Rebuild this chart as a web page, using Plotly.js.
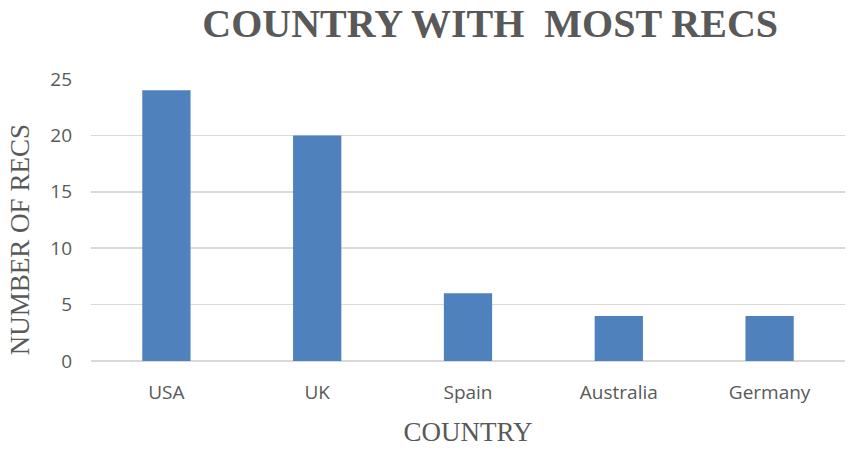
<!DOCTYPE html>
<html>
<head>
<meta charset="utf-8">
<script src="https://cdn.plot.ly/plotly-3.0.1.min.js"></script>
<style>
  html, body { margin: 0; padding: 0; background: #fff; }
  #chart { width: 854px; height: 450px; }
</style>
</head>
<body>
<div id="chart"></div>
<script>
// Country counts
const countries = ['USA', 'UK', 'Spain', 'Australia', 'Germany'];
const recs = [24, 20, 6, 4, 4];
const yTicks = [0, 5, 10, 15, 20, 25];

const grey = '#595959';
const serif = "'Liberation Serif', 'DejaVu Serif', serif";
const sans = "'Open Sans', 'Liberation Sans', sans-serif";

const traces = [{
    type: 'bar',
    x: countries,
    y: recs,
    marker: { color: '#4F81BD' },
    hoverinfo: 'skip'
}];

const layout = {
    width: 854,
    height: 450,
    paper_bgcolor: '#ffffff',
    plot_bgcolor: '#ffffff',
    margin: { l: 91, r: 9, t: 79, b: 89 },
    bargap: 0.68,
    showlegend: false,
    title: {
        text: '<b>COUNTRY WITH  MOST RECS</b>',
        font: { family: serif, size: 40, color: grey },
        x: 0.574,
        xanchor: 'center',
        y: 0.95,
        yanchor: 'middle'
    },
    xaxis: {
        title: { text: 'COUNTRY', font: { family: serif, size: 27, color: grey }, standoff: 18 },
        tickfont: { family: sans, size: 19, color: grey },
        showgrid: false,
        showline: false,
        ticks: '',
        ticklabelstandoff: 18
    },
    yaxis: {
        range: [0, 25],
        tickvals: yTicks,
        tickfont: { family: sans, size: 19, color: grey },
        gridcolor: '#d9d9d9',
        gridwidth: 1.5,
        zeroline: true,
        zerolinecolor: '#d9d9d9',
        zerolinewidth: 1.5,
        showline: false,
        ticks: '',
        ticklabelstandoff: 18
    },
    annotations: [{
        text: 'NUMBER OF RECS',
        xref: 'paper', yref: 'paper',
        x: -0.094, y: 0.429,
        xanchor: 'center', yanchor: 'middle',
        textangle: -90,
        showarrow: false,
        font: { family: serif, size: 27, color: grey }
    }]
};

Plotly.newPlot('chart', traces, layout, { staticPlot: true, displayModeBar: false });
</script>
</body>
</html>
